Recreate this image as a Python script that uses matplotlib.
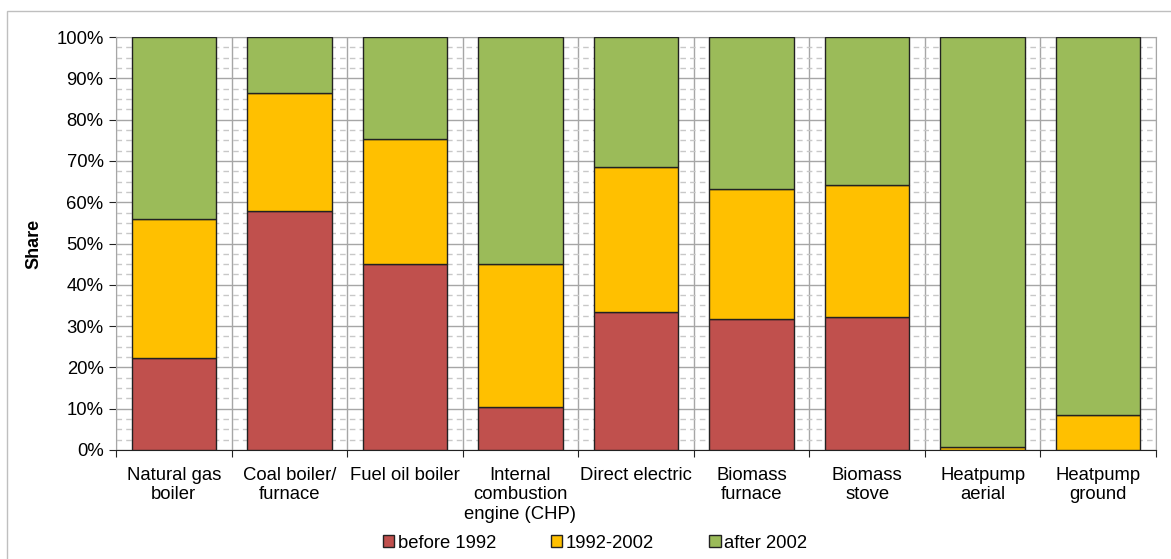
import numpy as np
import matplotlib.pyplot as plt
from matplotlib.ticker import MultipleLocator, FuncFormatter
from matplotlib.patches import Rectangle

plt.rcParams['font.family'] = ['Liberation Sans', 'DejaVu Sans']

categories = ['Natural gas\nboiler', 'Coal boiler/\nfurnace', 'Fuel oil boiler',
              'Internal\ncombustion\nengine (CHP)', 'Direct electric',
              'Biomass\nfurnace', 'Biomass\nstove', 'Heatpump\naerial', 'Heatpump\nground']
before_1992 = [22.2, 57.9, 45.1, 10.4, 33.4, 31.6, 32.2, 0.0, 0.0]
y1992_2002 = [33.8, 28.5, 30.2, 34.7, 35.1, 31.6, 32.0, 0.8, 8.5]
after_2002 = [44.0, 13.6, 24.7, 54.9, 31.5, 36.8, 35.8, 99.2, 91.5]
series_names = ['before 1992', '1992-2002', 'after 2002']
colors = ['#C0504D', '#FFC000', '#9BBB59']

fig = plt.figure(figsize=(11.71, 5.59), dpi=100)
# outer chart frame (extends past right/bottom of picture)
fig.patches.append(Rectangle((7 / 1171, -0.1), 1.2, 1 - 11 / 559 + 0.1,
                             transform=fig.transFigure, fill=False,
                             edgecolor='#BFBFBF', linewidth=1.0))

ax = fig.add_axes([116 / 1171, 1 - 450 / 559, 1040 / 1171, 413 / 559])

x = np.arange(len(categories))
w = 0.73
bottom = np.zeros(len(categories))
for vals, name, c in zip([before_1992, y1992_2002, after_2002], series_names, colors):
    vals = np.array(vals)
    ax.bar(x, vals, w, bottom=bottom, color=c, edgecolor='#222222', linewidth=1.0,
           label=name, zorder=3)
    bottom += vals

ax.set_xlim(-0.5, len(categories) - 0.5)
ax.set_ylim(0, 100)

ax.yaxis.set_major_locator(MultipleLocator(10))
ax.yaxis.set_minor_locator(MultipleLocator(2.5))
ax.yaxis.set_major_formatter(FuncFormatter(lambda v, p: '%d%%' % v))
ax.grid(axis='y', which='major', color='#A6A6A6', linewidth=1.0, zorder=0)
ax.grid(axis='y', which='minor', color='#C8C8C8', linewidth=1.0, linestyle=(0, (4, 3)), zorder=0)

ax.set_xticks(np.arange(len(categories) + 1) - 0.5)
ax.set_xticklabels([])
ax.set_xticks(x, minor=True)
ax.set_xticklabels(categories, minor=True, linespacing=1.2)
ax.grid(axis='x', which='major', color='#A6A6A6', linewidth=1.0, zorder=0)

ax.tick_params(axis='x', which='major', direction='out', length=5, color='#222222')
ax.tick_params(axis='x', which='minor', length=0, labelsize=13.3, pad=12)
ax.tick_params(axis='y', which='major', direction='out', length=5, color='#222222',
               labelsize=13.3, pad=4)
ax.tick_params(axis='y', which='minor', length=0)

for s in ['top', 'right', 'left']:
    ax.spines[s].set_color('#A6A6A6')
ax.spines['bottom'].set_color('#222222')

ax.set_ylabel('Share', fontsize=13, fontweight='bold', labelpad=10)

ax.legend(loc='center', bbox_to_anchor=(595 / 1171, 1 - 543 / 559),
          bbox_transform=fig.transFigure, ncol=3, frameon=False, fontsize=13.3,
          handlelength=0.6, handleheight=0.6, handletextpad=0.2, columnspacing=3.0)

fig.savefig('out.png', dpi=100)
